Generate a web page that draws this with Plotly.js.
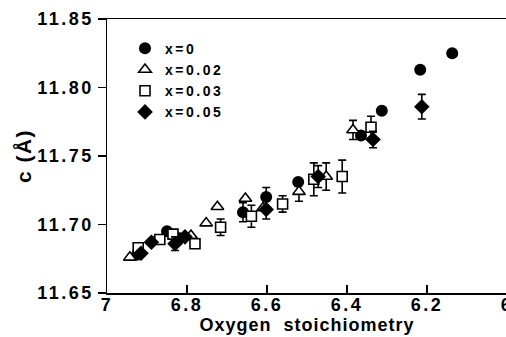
<!DOCTYPE html>
<html>
<head>
<meta charset="utf-8">
<script src="https://cdn.plot.ly/plotly-3.0.1.min.js"></script>
<style>
html, body { margin:0; padding:0; overflow:hidden; background:#fff; }
.xtick text, .ytick text { letter-spacing: 2.5px; }
.legendtext { letter-spacing: 2.5px; }
.xtitle { letter-spacing: 1px; }
.ytitle { letter-spacing: 1.5px; }
</style>
</head>
<body>
<div id="chart"></div>
<script>
// x = 0 (filled circles)
const s0_x   = [6.925, 6.850, 6.818, 6.660, 6.602, 6.522, 6.365, 6.313, 6.217, 6.137];
const s0_y   = [11.678, 11.695, 11.690, 11.709, 11.720, 11.731, 11.765, 11.783, 11.813, 11.825];
const s0_err = [0, 0, 0, 0.007, 0.007, 0, 0, 0, 0, 0];

// x = 0.02 (open triangles)
const s1_x   = [6.943, 6.880, 6.790, 6.752, 6.724, 6.654, 6.610, 6.520, 6.452, 6.385];
const s1_y   = [11.676, 11.688, 11.692, 11.701, 11.713, 11.719, 11.712, 11.724, 11.735, 11.769];
const s1_err = [0, 0, 0, 0, 0, 0, 0, 0.007, 0.010, 0.007];

// x = 0.03 (open squares)
const s2_x   = [6.922, 6.868, 6.835, 6.780, 6.716, 6.639, 6.561, 6.483, 6.412, 6.340];
const s2_y   = [11.683, 11.689, 11.693, 11.686, 11.698, 11.706, 11.715, 11.733, 11.735, 11.771];
const s2_err = [0, 0, 0, 0, 0.006, 0.008, 0.006, 0.012, 0.012, 0.008];

// x = 0.05 (filled diamonds)
const s3_x   = [6.915, 6.889, 6.830, 6.805, 6.602, 6.472, 6.335, 6.213];
const s3_y   = [11.679, 11.687, 11.686, 11.691, 11.711, 11.735, 11.762, 11.786];
const s3_err = [0, 0, 0.005, 0, 0.007, 0.008, 0.006, 0.009];

const names = ['x=0', 'x=0.02', 'x=0.03', 'x=0.05'];
const xTicks = [7, 6.8, 6.6, 6.4, 6.2, 6];
const xTickText = ['7', '6.8', '6.6', '6.4', '6.2', '6'];
const yTicks = [11.65, 11.70, 11.75, 11.80, 11.85];
const yTickText = ['11.65', '11.70', '11.75', '11.80', '11.85'];

const FONT = 'Liberation Sans, Arial, Helvetica, sans-serif';

function errBar(arr) {
  return { type: 'data', array: arr, visible: true, color: '#000', thickness: 1.6, width: 4 };
}

const traces = [
  { x: s0_x, y: s0_y, name: names[0], mode: 'markers', type: 'scatter',
    marker: { symbol: 'circle', size: 12, color: '#000' }, error_y: errBar(s0_err) },
  { x: s1_x, y: s1_y, name: names[1], mode: 'markers', type: 'scatter',
    marker: { symbol: 'triangle-up', size: 11, color: '#fff', line: { color: '#000', width: 1.6 } }, error_y: errBar(s1_err) },
  { x: s2_x, y: s2_y, name: names[2], mode: 'markers', type: 'scatter',
    marker: { symbol: 'square', size: 10, color: '#fff', line: { color: '#000', width: 1.6 } }, error_y: errBar(s2_err) },
  { x: s3_x, y: s3_y, name: names[3], mode: 'markers', type: 'scatter',
    marker: { symbol: 'diamond', size: 12, color: '#000' }, error_y: errBar(s3_err) }
];

const layout = {
  width: 520, height: 337,
  margin: { l: 107, r: 13, t: 19, b: 44 },
  paper_bgcolor: '#fff', plot_bgcolor: '#fff',
  font: { family: FONT, color: '#000' },
  showlegend: true,
  legend: {
    x: 0.045, y: 0.95, xanchor: 'left', yanchor: 'top',
    bgcolor: 'rgba(0,0,0,0)', borderwidth: 0,
    font: { family: FONT, size: 14, weight: 'bold', color: '#000' },
    tracegroupgap: 0
  },
  xaxis: {
    range: [7, 6], autorange: false,
    tickmode: 'array', tickvals: xTicks, ticktext: xTickText,
    ticks: 'inside', ticklen: 8, tickwidth: 1.5, tickcolor: '#000',
    ticklabelstandoff: -5,
    showline: true, linecolor: '#000', linewidth: 1.5, mirror: true,
    showgrid: false, zeroline: false,
    tickfont: { family: FONT, size: 18, weight: 'bold', color: '#000' },
    title: { text: 'Oxygen  stoichiometry', font: { family: FONT, size: 18, weight: 'bold', color: '#000' }, standoff: 0 }
  },
  yaxis: {
    range: [11.65, 11.85], autorange: false,
    tickmode: 'array', tickvals: yTicks, ticktext: yTickText,
    ticks: 'outside', ticklen: 8, tickwidth: 1.5, tickcolor: '#000',
    showline: true, linecolor: '#000', linewidth: 1.5, mirror: true,
    showgrid: false, zeroline: false,
    tickfont: { family: FONT, size: 18, weight: 'bold', color: '#000' },
    title: { text: 'c (Å)', font: { family: FONT, size: 21, weight: 'bold', color: '#000' }, standoff: 0 }
  }
};

Plotly.newPlot('chart', traces, layout, { displayModeBar: false, staticPlot: true });
</script>
</body>
</html>
